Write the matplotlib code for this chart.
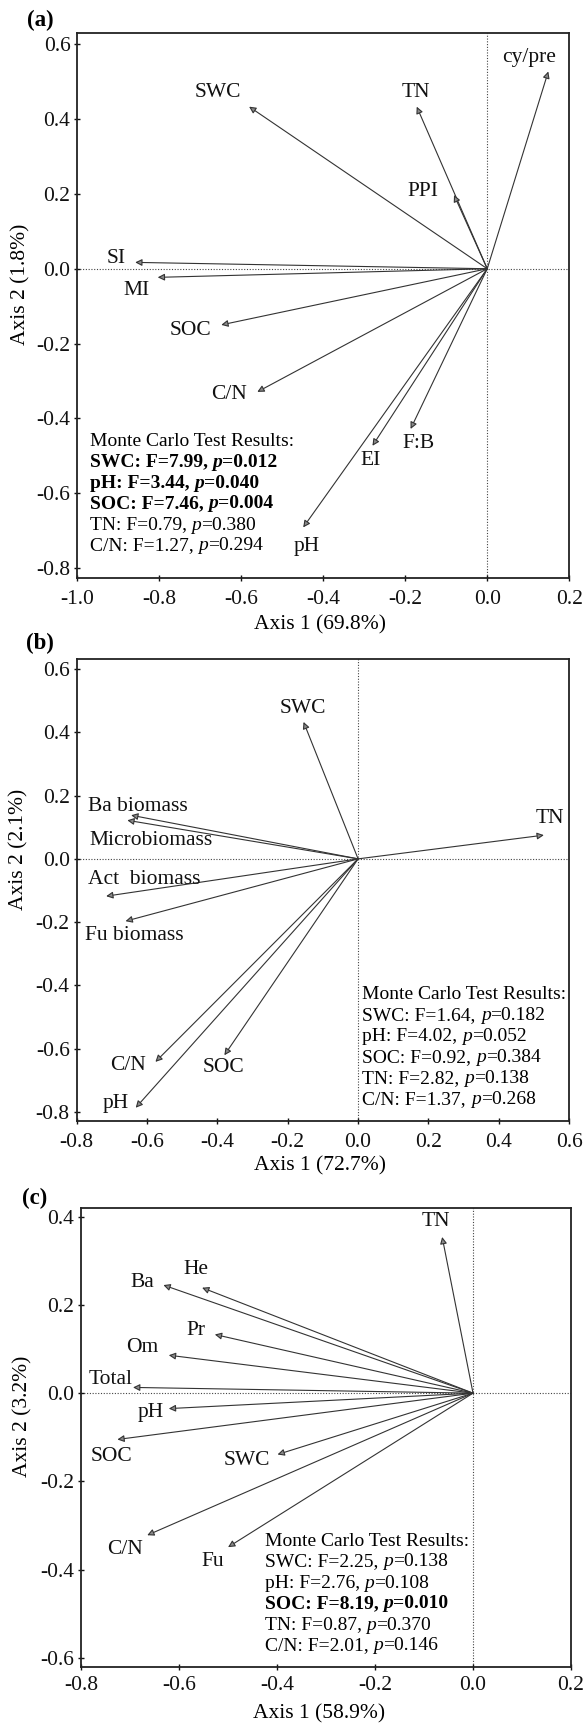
import matplotlib
matplotlib.use('Agg')
import matplotlib.pyplot as plt

plt.rcParams['font.family'] = ['Liberation Serif', 'DejaVu Serif']
plt.rcParams['axes.unicode_minus'] = False

W, H = 586, 1727

# ---- panel (a) data ----
vars_a = ['cy/pre', 'SWC', 'TN', 'PPI', 'SI', 'MI', 'SOC', 'C/N', 'EI', 'F:B', 'pH']
x_a = [0.149, -0.581, -0.172, -0.081, -0.859, -0.804, -0.649, -0.561, -0.280, -0.187, -0.449]
y_a = [0.527, 0.433, 0.433, 0.197, 0.017, -0.023, -0.150, -0.329, -0.473, -0.428, -0.691]
mc_names_a = ['SWC', 'pH', 'SOC', 'TN', 'C/N']
mc_F_a = [7.99, 3.44, 7.46, 0.79, 1.27]
mc_p_a = [0.012, 0.040, 0.004, 0.380, 0.294]

# ---- panel (b) data ----
vars_b = ['SWC', 'TN', 'Ba biomass', 'Microbiomass', 'Act  biomass', 'Fu biomass', 'C/N', 'pH', 'SOC']
x_b = [-0.155, 0.528, -0.645, -0.656, -0.716, -0.661, -0.576, -0.632, -0.380]
y_b = [0.433, 0.075, 0.138, 0.122, -0.118, -0.197, -0.642, -0.787, -0.621]
mc_names_b = ['SWC', 'pH', 'SOC', 'TN', 'C/N']
mc_F_b = [1.64, 4.02, 0.92, 2.82, 1.37]
mc_p_b = [0.182, 0.052, 0.384, 0.138, 0.268]

# ---- panel (c) data ----
vars_c = ['TN', 'Ba', 'He', 'Pr', 'Om', 'Total', 'pH', 'SOC', 'SWC', 'C/N', 'Fu']
x_c = [-0.063, -0.632, -0.553, -0.527, -0.621, -0.694, -0.621, -0.726, -0.399, -0.665, -0.500]
y_c = [0.354, 0.245, 0.239, 0.133, 0.086, 0.013, -0.035, -0.105, -0.139, -0.322, -0.349]
mc_names_c = ['SWC', 'pH', 'SOC', 'TN', 'C/N']
mc_F_c = [2.25, 2.76, 8.19, 0.87, 2.01]
mc_p_c = [0.138, 0.108, 0.010, 0.370, 0.146]

# label offsets from arrow tips (pixels, x right / y up)
off_a = [(-19, 14), (-31, 14), (-1, 14), (-31, 4), (-19, 4), (-21, -13), (-31, -6),
         (-28, -3), (-2, -15), (8, -15), (3, -19)]
off_b = [(-1, 13), (6, 17), (7, 9), (24, -20), (38, 17), (9, -14), (-27, -4), (-20, 4), (-1, -12)]
off_c = [(-6, 15), (-21, 3), (-6, 18), (-19, 4), (-27, 8), (-22, 8), (-18, -4), (-6, -17),
         (-31, -6), (-22, -14), (-15, -14)]

fig = plt.figure(figsize=(W / 100, H / 100), dpi=100)


def fx(px):
    return px / W


def fy(py):
    return 1 - py / H


def panel(box, xlim, ylim, xticks, yticks, names, xs, ys, offs, tag, tag_xy,
          xlab, xlab_xy, ylab, ylab_xy, mc_names, mc_F, mc_p, bold, mc_x, mc_y0, xpad):
    l, t, r, b = box
    ax = fig.add_axes([fx(l), fy(b), fx(r) - fx(l), fy(t) - fy(b)])
    ax.set_xlim(*xlim)
    ax.set_ylim(*ylim)
    ax.set_xticks(xticks)
    ax.set_yticks(yticks)
    ax.set_xticklabels(['%.1f' % v for v in xticks])
    ax.set_yticklabels(['%.1f' % v for v in yticks])
    ax.tick_params(direction='inout', length=5, width=1, labelsize=15.5, colors='#111111')
    ax.tick_params(axis='x', pad=xpad)
    ax.tick_params(axis='y', pad=2.5)
    for s in ax.spines.values():
        s.set_linewidth(1.3)
        s.set_color('#222222')
    ax.axhline(0, color='#444444', lw=0.8, ls=(0, (1, 1.5)), zorder=1)
    ax.axvline(0, color='#444444', lw=0.8, ls=(0, (1, 1.5)), zorder=1)
    for n, x, y, o in zip(names, xs, ys, offs):
        ax.annotate('', xy=(x, y), xytext=(0, 0),
                    arrowprops=dict(arrowstyle='-|>', mutation_scale=10, lw=0.8,
                                    fc='#8a8a8a', ec='#333333', shrinkA=0, shrinkB=0))
        ax.annotate(n, xy=(x, y), xytext=o, textcoords='offset pixels',
                    ha='center', va='center', fontsize=15.5, color='#111111')
    fig.text(fx(tag_xy[0]), fy(tag_xy[1]), tag, fontsize=16.5, fontweight='bold',
             ha='center', va='center')
    fig.text(fx(xlab_xy[0]), fy(xlab_xy[1]), xlab, fontsize=15.5, ha='center', va='center')
    fig.text(fx(ylab_xy[0]), fy(ylab_xy[1]), ylab, fontsize=15.5, ha='center', va='center',
             rotation=90)
    # Monte Carlo box
    fig.text(fx(mc_x), fy(mc_y0 + 6), 'Monte Carlo Test Results:', fontsize=14,
             ha='left', va='baseline')
    for i, (n, F, p) in enumerate(zip(mc_names, mc_F, mc_p)):
        w = 'bold' if n in bold else 'normal'
        yb = fy(mc_y0 + 21 * (i + 1) + 6)
        t1 = fig.text(fx(mc_x), yb, '%s: F=%.2f, ' % (n, F), fontsize=14,
                      fontweight=w, ha='left', va='baseline')
        t2 = ax.annotate('p', xy=(1, yb), xycoords=(t1, 'figure fraction'),
                         fontsize=14, fontweight=w, fontstyle='italic',
                         ha='left', va='baseline', annotation_clip=False)
        ax.annotate('=%.3f' % p, xy=(1, yb), xycoords=(t2, 'figure fraction'),
                    fontsize=14, fontweight=w, ha='left', va='baseline',
                    annotation_clip=False)
    return ax


panel((77.4, 33.3, 569.2, 578.3), (-1.0, 0.2), (-0.827, 0.629),
      [-1.0, -0.8, -0.6, -0.4, -0.2, 0.0, 0.2], [-0.8, -0.6, -0.4, -0.2, 0.0, 0.2, 0.4, 0.6],
      vars_a, x_a, y_a, off_a, '(a)', (40, 20.7),
      'Axis 1 (69.8%)', (320.3, 625), 'Axis 2 (1.8%)', (20.6, 284.5),
      mc_names_a, mc_F_a, mc_p_a, ['SWC', 'pH', 'SOC'], 89.7, 439.5, 6)

panel((76.6, 659, 569.2, 1120.7), (-0.8, 0.6), (-0.828, 0.632),
      [-0.8, -0.6, -0.4, -0.2, 0.0, 0.2, 0.4, 0.6], [-0.8, -0.6, -0.4, -0.2, 0.0, 0.2, 0.4, 0.6],
      vars_b, x_b, y_b, off_b, '(b)', (40.4, 643.3),
      'Axis 1 (72.7%)', (320, 1166), 'Axis 2 (2.1%)', (18.7, 849),
      mc_names_b, mc_F_b, mc_p_b, [], 362.5, 993, 6)

panel((81.1, 1208.3, 571, 1666.7), (-0.8, 0.2), (-0.620, 0.419),
      [-0.8, -0.6, -0.4, -0.2, 0.0, 0.2], [-0.6, -0.4, -0.2, 0.0, 0.2, 0.4],
      vars_c, x_c, y_c, off_c, '(c)', (34.5, 1198),
      'Axis 1 (58.9%)', (319.5, 1714), 'Axis 2 (3.2%)', (22.4, 1416.5),
      mc_names_c, mc_F_c, mc_p_c, ['SOC'], 264.6, 1539.5, 4)

fig.savefig('out.png', dpi=100)
